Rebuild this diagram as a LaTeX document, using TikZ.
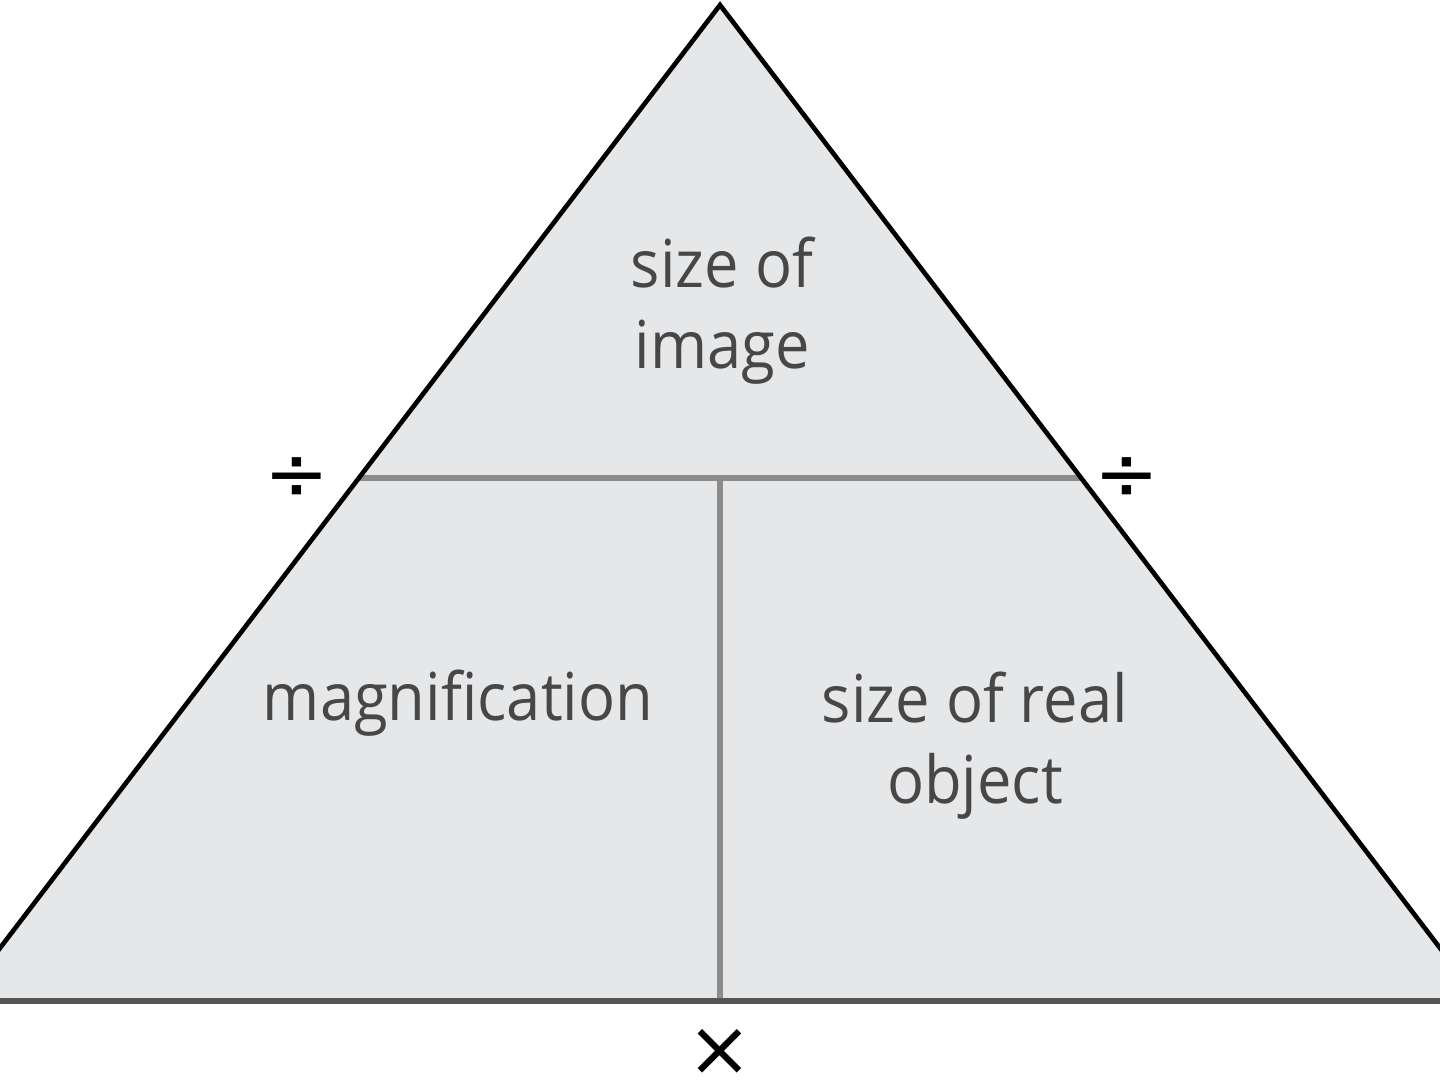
\documentclass[tikz,border=0pt]{standalone}
\usepackage{fontspec}
\setmainfont{Open Sans}[FakeStretch=0.93]
\newfontfamily\symfont{DejaVu Sans}
\definecolor{trifill}{HTML}{E6E7E9}
\definecolor{labelgray}{HTML}{474747}
\definecolor{divgray}{HTML}{8C8C8C}
\definecolor{basegray}{HTML}{555555}
\begin{document}
\begin{tikzpicture}[x=0.025cm,y=-0.025cm,
  label/.style={inner sep=0pt, text=labelgray, align=center, anchor=base,
    font=\fontsize{47pt}{57pt}\selectfont},
  opsign/.style={inner sep=0pt, text=black, font=\symfont\fontsize{55pt}{55pt}\selectfont},
  side/.style={line width=3.3pt, draw=black, line join=miter},
  divider/.style={line width=4pt, draw=divgray},
  baseline/.style={line width=3.8pt, draw=basegray}]
\useasboundingbox (0,0) rectangle (1440,1081);
\clip (0,0) rectangle (1440,1081);
\coordinate (apex) at (720,5);
\coordinate (bl) at (0,948);
\coordinate (br) at (1440,948);
\coordinate (fl) at (0,1001);
\coordinate (fr) at (1440,1001);
\coordinate (hl) at (359,478);
\coordinate (hr) at (1081,478);
\coordinate (vt) at (720,478);
\coordinate (vb) at (720,1001);
\coordinate (blx) at (-30,987.3);
\coordinate (brx) at (1470,987.3);
% fill
\fill[trifill] (bl) -- (apex) -- (br) -- (fr) -- (fl) -- cycle;
% dividers
\draw[divider] (hl) -- (hr);
\draw[divider] (vt) -- (vb);
\draw[baseline] (-5,1001) -- (1445,1001);
% sides
\draw[side] (blx) -- (apex) -- (brx);
% labels
\node[label] (img) at (722,368) {size of\\image};
\node[label] (mag) at (458,720) {magnification};
\node[label] (obj) at (975,803) {size of real\\object};
% operators
\node[opsign] (divl) at (297,479) {÷};
\node[opsign] (divr) at (1127,479) {÷};
\node[opsign] (mul) at (720,1052) {×};
\end{tikzpicture}
\end{document}
